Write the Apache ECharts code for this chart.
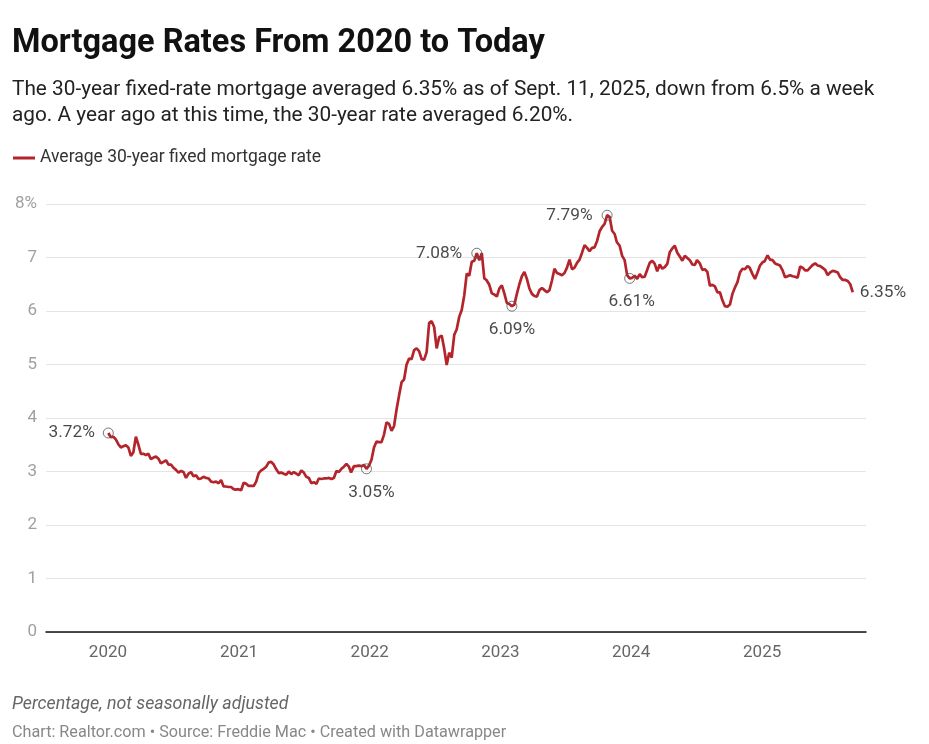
<!DOCTYPE html>
<html>
<head>
<meta charset="utf-8">
<script src="https://cdn.jsdelivr.net/npm/echarts@6/dist/echarts.min.js"></script>
<style>
  html, body { margin: 0; padding: 0; background: #fff; }
  #chart { width: 929px; height: 744px; }
</style>
</head>
<body>
<div id="chart"></div>
<script>
// weekly Freddie Mac PMMS readings, 30-year fixed
const weeks2020 = ['01-02','01-09','01-16','01-23','01-30','02-06','02-13','02-20','02-27','03-05','03-12','03-19','03-26','04-02','04-09','04-16','04-23','04-30','05-07','05-14','05-21','05-28','06-04','06-11','06-18','06-25','07-02','07-09','07-16','07-23','07-30','08-06','08-13','08-20','08-27','09-03','09-10','09-17','09-24','10-01','10-08','10-15','10-22','10-29','11-05','11-12','11-19','11-25','12-03','12-10','12-17','12-23','12-30']
const rates2020 = [3.72,3.64,3.65,3.60,3.51,3.45,3.47,3.49,3.45,3.29,3.36,3.65,3.50,3.33,3.33,3.31,3.33,3.23,3.26,3.28,3.24,3.15,3.18,3.21,3.13,3.13,3.07,3.03,2.98,3.01,2.99,2.88,2.96,2.99,2.91,2.93,2.86,2.87,2.90,2.88,2.87,2.81,2.80,2.81,2.78,2.84,2.72,2.72,2.71,2.71,2.67,2.66,2.67]

const weeks2021 = ['01-07','01-14','01-21','01-28','02-04','02-11','02-18','02-25','03-04','03-11','03-18','03-25','04-01','04-08','04-15','04-22','04-29','05-06','05-13','05-20','05-27','06-03','06-10','06-17','06-24','07-01','07-08','07-15','07-22','07-29','08-05','08-12','08-19','08-26','09-02','09-09','09-16','09-23','09-30','10-07','10-14','10-21','10-28','11-04','11-10','11-18','11-24','12-02','12-09','12-16','12-23','12-30']
const rates2021 = [2.65,2.79,2.77,2.73,2.73,2.73,2.81,2.97,3.02,3.05,3.09,3.17,3.18,3.13,3.04,2.97,2.98,2.96,2.94,3.00,2.95,2.99,2.96,2.93,3.02,2.98,2.90,2.88,2.78,2.80,2.77,2.87,2.86,2.87,2.87,2.88,2.86,2.88,3.01,2.99,3.05,3.09,3.14,3.09,2.98,3.10,3.10,3.11,3.10,3.12,3.05,3.11]

const weeks2022 = ['01-06','01-13','01-20','01-27','02-03','02-10','02-17','02-24','03-03','03-10','03-17','03-24','03-31','04-07','04-14','04-21','04-28','05-05','05-12','05-19','05-26','06-02','06-09','06-16','06-23','06-30','07-07','07-14','07-21','07-28','08-04','08-11','08-18','08-25','09-01','09-08','09-15','09-22','09-29','10-06','10-13','10-20','10-27','11-03','11-10','11-17','11-23','12-01','12-08','12-15','12-22','12-29']
const rates2022 = [3.22,3.45,3.56,3.55,3.55,3.69,3.92,3.89,3.76,3.85,4.16,4.42,4.67,4.72,5.00,5.11,5.10,5.27,5.30,5.25,5.10,5.09,5.23,5.78,5.81,5.70,5.30,5.51,5.54,5.30,4.99,5.22,5.13,5.55,5.66,5.89,6.02,6.29,6.70,6.66,6.92,6.94,7.08,6.95,7.08,6.61,6.58,6.49,6.33,6.31,6.27,6.42]

const weeks2023 = ['01-05','01-12','01-19','01-26','02-02','02-09','02-16','02-23','03-02','03-09','03-16','03-23','03-30','04-06','04-13','04-20','04-27','05-04','05-11','05-18','05-25','06-01','06-08','06-15','06-22','06-29','07-06','07-13','07-20','07-27','08-03','08-10','08-17','08-24','08-31','09-07','09-14','09-21','09-28','10-05','10-12','10-19','10-26','11-02','11-09','11-16','11-22','11-30','12-07','12-14','12-21','12-28']
const rates2023 = [6.48,6.33,6.15,6.13,6.09,6.12,6.32,6.50,6.65,6.73,6.60,6.42,6.32,6.28,6.27,6.39,6.43,6.39,6.35,6.39,6.57,6.79,6.71,6.69,6.67,6.71,6.81,6.96,6.78,6.81,6.90,6.96,7.09,7.23,7.18,7.12,7.18,7.19,7.31,7.49,7.57,7.63,7.79,7.76,7.50,7.44,7.29,7.22,7.03,6.95,6.67,6.61]

const weeks2024 = ['01-04','01-11','01-18','01-25','02-01','02-08','02-15','02-22','02-29','03-07','03-14','03-21','03-28','04-04','04-11','04-18','04-25','05-02','05-09','05-16','05-23','05-30','06-06','06-13','06-20','06-27','07-03','07-11','07-18','07-25','08-01','08-08','08-15','08-22','08-29','09-05','09-12','09-19','09-26','10-03','10-10','10-17','10-24','10-31','11-07','11-14','11-21','11-27','12-05','12-12','12-19','12-26']
const rates2024 = [6.62,6.66,6.60,6.69,6.63,6.64,6.77,6.90,6.94,6.88,6.74,6.87,6.79,6.82,6.88,7.10,7.17,7.22,7.09,7.02,6.94,7.03,6.99,6.95,6.87,6.86,6.95,6.89,6.77,6.78,6.73,6.47,6.49,6.46,6.35,6.35,6.20,6.09,6.08,6.12,6.32,6.44,6.54,6.72,6.79,6.78,6.84,6.81,6.69,6.60,6.72,6.85]

const weeks2025 = ['01-02','01-08','01-16','01-23','01-30','02-06','02-13','02-20','02-27','03-06','03-13','03-20','03-27','04-03','04-10','04-17','04-24','05-01','05-08','05-15','05-22','05-29','06-05','06-12','06-18','06-26','07-03','07-10','07-17','07-24','07-31','08-07','08-14','08-21','08-28','09-04','09-11']
const rates2025 = [6.91,6.93,7.04,6.96,6.95,6.89,6.87,6.85,6.76,6.63,6.65,6.67,6.65,6.64,6.62,6.83,6.81,6.76,6.76,6.81,6.86,6.89,6.85,6.84,6.81,6.77,6.67,6.72,6.75,6.74,6.72,6.63,6.58,6.58,6.56,6.50,6.35]

// annotated points (highs / lows / ends)
const noteDates = ['2020-01-02','2021-12-23','2022-10-27','2023-02-02','2023-10-26','2023-12-28','2025-09-11']

const yTicks = [0, 1, 2, 3, 4, 5, 6, 7, 8]
const seriesName = 'Average 30-year fixed mortgage rate'

const yearParts = [
  ['2020', weeks2020, rates2020],
  ['2021', weeks2021, rates2021],
  ['2022', weeks2022, rates2022],
  ['2023', weeks2023, rates2023],
  ['2024', weeks2024, rates2024],
  ['2025', weeks2025, rates2025]
]

const lineData = []
yearParts.forEach(([yr, wk, rt]) => {
  wk.forEach((d, i) => lineData.push([yr + '-' + d, rt[i]]))
})

// label placement for each note, in the same order as noteDates
const noteStyle = [
  { position: 'left', distance: 8, offset: [0, 0] },
  { position: 'bottom', distance: 8, offset: [5, 2] },
  { position: 'left', distance: 9, offset: [0, 0] },
  { position: 'bottom', distance: 6, offset: [0, 3] },
  { position: 'left', distance: 9, offset: [0, 0] },
  { position: 'bottom', distance: 6, offset: [2, 3] },
  { position: 'right', distance: 7, offset: [0, 0], noRing: true }
]

const noteData = noteDates.map((d, i) => {
  const pt = lineData.find(p => p[0] === d)
  const st = noteStyle[i]
  return {
    value: pt,
    symbolSize: st.noRing ? 0 : 10,
    label: {
      show: true,
      position: st.position,
      distance: st.distance,
      offset: st.offset,
      formatter: pt[1].toFixed(2) + '%'
    }
  }
})

const chart = echarts.init(document.getElementById('chart'), null, { renderer: 'canvas' })

const option = {
  backgroundColor: '#fff',
  animation: false,
  textStyle: { fontFamily: 'Roboto' },
  title: [
    {
      text: 'Mortgage Rates From 2020 to Today',
      left: 12, top: 24, padding: 0,
      textStyle: { fontFamily: 'Roboto', fontWeight: 'bold', fontSize: 32.5, color: '#111', lineHeight: 40 }
    },
    {
      text: 'The 30-year fixed-rate mortgage averaged 6.35% as of Sept. 11, 2025, down from 6.5% a week\nago. A year ago at this time, the 30-year rate averaged 6.20%.',
      left: 12, top: 77, padding: 0,
      textStyle: { fontFamily: 'Roboto', fontWeight: 'normal', fontSize: 20.8, color: '#222', lineHeight: 26 }
    },
    {
      text: 'Percentage, not seasonally adjusted',
      left: 12, top: 695, padding: 0,
      textStyle: { fontFamily: 'Roboto', fontStyle: 'italic', fontWeight: 'normal', fontSize: 17.8, color: '#666', lineHeight: 20 }
    },
    {
      text: 'Chart: Realtor.com • Source: Freddie Mac • Created with Datawrapper',
      left: 12, top: 723, padding: 0,
      textStyle: { fontFamily: 'Roboto', fontWeight: 'normal', fontSize: 16.2, color: '#888', lineHeight: 20 }
    }
  ],
  legend: {
    data: [seriesName],
    left: 8, top: 144,
    icon: 'rect',
    itemWidth: 22, itemHeight: 3,
    textStyle: { fontFamily: 'Roboto', fontSize: 17.5, color: '#333' }
  },
  grid: { left: 46, right: 63, top: 204, bottom: 112, containLabel: false },
  xAxis: {
    type: 'time',
    min: '2019-07-12',
    max: '2025-10-18',
    axisLine: { show: true, lineStyle: { color: '#111', width: 1.5 } },
    axisTick: { show: false },
    splitLine: { show: false },
    axisLabel: {
      color: '#666', fontSize: 17, margin: 12,
      showMinLabel: false, showMaxLabel: false,
      formatter: (v) => {
        const d = new Date(v)
        return (d.getMonth() === 0 && d.getDate() === 1) ? String(d.getFullYear()) : ''
      }
    }
  },
  yAxis: {
    type: 'value',
    min: yTicks[0],
    max: yTicks[yTicks.length - 1],
    interval: 1,
    axisLine: { show: false },
    axisTick: { show: false },
    splitLine: { lineStyle: { color: '#e4e4e4', width: 1 } },
    axisLabel: {
      color: '#a0a0a0', fontSize: 17, margin: 9,
      formatter: (v) => v === yTicks[yTicks.length - 1] ? v + '%' : String(v)
    }
  },
  series: [
    {
      name: seriesName,
      type: 'line',
      data: lineData,
      showSymbol: false,
      lineStyle: { color: '#b3242b', width: 2.7 },
      itemStyle: { color: '#b3242b' },
      z: 3
    },
    {
      name: 'notes',
      type: 'scatter',
      data: noteData,
      symbol: 'circle',
      itemStyle: { color: 'rgba(0,0,0,0)', borderColor: '#555', borderWidth: 1 },
      label: { fontFamily: 'Roboto', fontSize: 17.3, color: '#1a1a1a' },
      z: 4
    }
  ]
}

chart.setOption(option)
</script>
</body>
</html>
